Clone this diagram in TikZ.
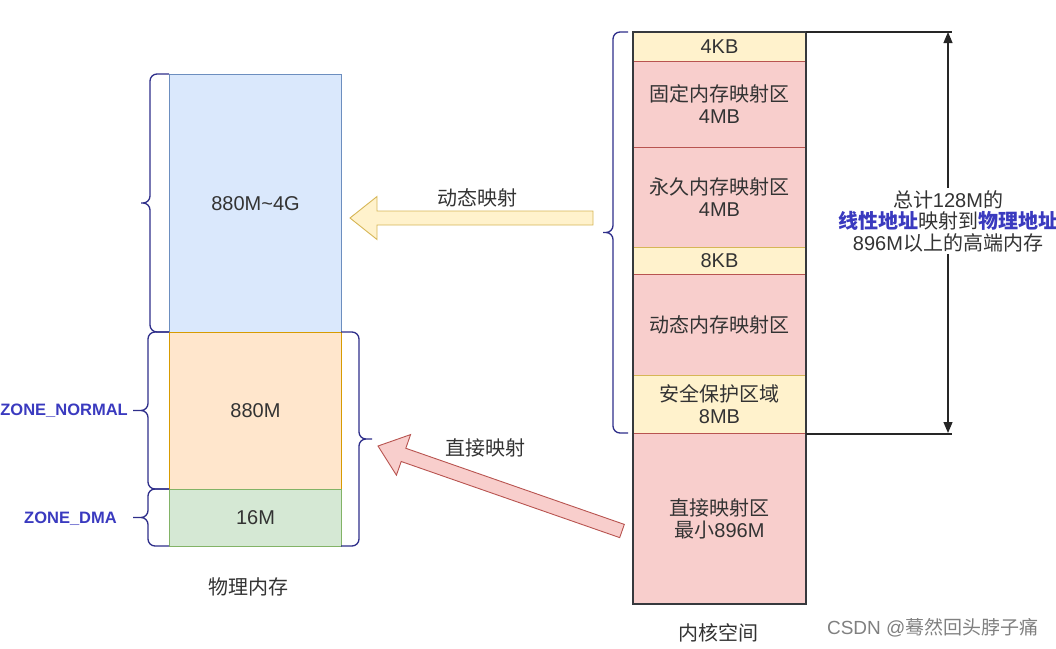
\documentclass[tikz,border=0pt]{standalone}
\usepackage{fontspec}
\setmainfont{Liberation Sans}
\newfontfamily\cjk{Noto Sans CJK SC}
\usetikzlibrary{calc,arrows.meta}

\definecolor{blueF}{HTML}{DAE8FC}\definecolor{blueS}{HTML}{6C8EBF}
\definecolor{orangeF}{HTML}{FFE6CC}\definecolor{orangeS}{HTML}{D79B00}
\definecolor{greenF}{HTML}{D5E8D4}\definecolor{greenS}{HTML}{82B366}
\definecolor{yellowF}{HTML}{FFF2CC}\definecolor{yellowS}{HTML}{D6B656}
\definecolor{pinkF}{HTML}{F8CECC}\definecolor{pinkS}{HTML}{B85450}
\definecolor{braceC}{HTML}{2E2E8A}
\definecolor{zoneC}{HTML}{3A3ABF}
\definecolor{txt}{HTML}{333333}
\definecolor{frame}{HTML}{36393D}

\tikzset{
  cell/.style={draw, line width=1pt, anchor=north west, inner sep=0pt,
    align=center, minimum width=172pt, text=txt,
    font=\fontsize{20}{22}\selectfont},
  curlybr/.style={draw=braceC, line width=1.3pt, rounded corners=7pt},
  zone/.style={font=\bfseries\fontsize{16.5}{20}\selectfont, text=zoneC, anchor=east, inner xsep=1pt},
  caption/.style={font=\fontsize{20}{22}\selectfont, text=txt},
  dimline/.style={draw=black!85, line width=1.1pt},
}

% curly bracket: x at the boxes, x of the spine, x of the tip, top y, bottom y
\newcommand\curly[5]{%
  \pgfmathsetmacro\cymid{(#4+#5)/2}%
  \draw[curlybr] (#1,#4) -- (#2,#4) -- (#2,\cymid) -- (#3,\cymid)
                 (#3,\cymid) -- (#2,\cymid) -- (#2,#5) -- (#1,#5);
}

% block arrow from coordinate #2 (tail) to coordinate #1 (tip)
\newcommand\fatarrow[4]{%
  \coordinate (#1-hb) at ($(#1)!27pt!(#2)$);
  \draw[fill=#3, draw=#4, line width=0.9pt, line join=miter]
    (#1) -- ($(#1-hb)!21.5pt!90:(#2)$) -- ($(#1-hb)!7pt!90:(#2)$)
    -- ($(#2)!7pt!-90:(#1-hb)$) -- ($(#2)!7pt!90:(#1-hb)$)
    -- ($(#1-hb)!7pt!-90:(#2)$) -- ($(#1-hb)!21.5pt!-90:(#2)$) -- cycle;
}

\begin{document}
\begin{tikzpicture}[x=1pt, y=-1pt]
\useasboundingbox (0,0) rectangle (1056,648);

% ---------- physical memory ----------
\node[cell, fill=blueF, draw=blueS, minimum height=258pt] (high) at (169,74) {880M\textasciitilde4G};
\node[cell, fill=orangeF, draw=orangeS, minimum height=157pt] (normal) at (169,332) {880M};
\node[cell, fill=greenF, draw=greenS, minimum height=57pt] (dma) at (169,489) {16M};

\curly{169}{150}{141}{74}{332}
\curly{169}{148}{133}{332}{489}
\curly{169}{148}{133}{489}{546}
\curly{341}{359}{372}{332}{546}

\node[zone] (lblnormal) at (129,411) {ZONE\_NORMAL};
\node[zone] (lbldma) at (118,519) {ZONE\_DMA};
\node[caption] (phys) at (248,587) {\cjk 物理内存};

% ---------- kernel address space ----------
\node[cell, fill=yellowF, draw=yellowS, minimum height=29pt] (k4kb) at (633,32) {4KB};
\node[cell, fill=pinkF, draw=pinkS, minimum height=86pt] (fixmap) at (633,61) {{\cjk 固定内存映射区}\\4MB};
\node[cell, fill=pinkF, draw=pinkS, minimum height=100pt] (pkmap) at (633,147) {{\cjk 永久内存映射区}\\4MB};
\node[cell, fill=yellowF, draw=yellowS, minimum height=27pt] (k8kb) at (633,247) {8KB};
\node[cell, fill=pinkF, draw=pinkS, minimum height=101pt] (vmalloc) at (633,274) {\cjk 动态内存映射区};
\node[cell, fill=yellowF, draw=yellowS, minimum height=58pt] (guard) at (633,375) {{\cjk 安全保护区域}\\8MB};
\node[cell, fill=pinkF, draw=pinkS, minimum height=170pt] (direct) at (633,433) {{\cjk 直接映射区}\\{\cjk 最小}896M};
\draw[draw=frame, line width=1.2pt] (k4kb.north west) rectangle (direct.south east);

\curly{628}{613}{603}{32}{433}
\node[caption] (kspace) at (718,633) {\cjk 内核空间};

% ---------- 128M high memory window ----------
\coordinate (dimtop) at (948,32);
\coordinate (dimbot) at (948,433);
\draw[dimline] (k4kb.north east) -- ++(146,0);
\draw[dimline] (guard.south east) -- ++(146,0);
\draw[dimline, {Triangle[length=11pt,width=9pt]}-{Triangle[length=11pt,width=9pt]}] (dimtop) -- (dimbot);
\node[fill=white, inner sep=2pt, align=center, text=txt,
      font=\fontsize{20}{21.5}\selectfont] (note) at (948,221)
  {{\cjk 总计}128M{\cjk 的}\\
   {\cjk\bfseries\color{zoneC}线性地址}{\cjk 映射到}{\cjk\bfseries\color{zoneC}物理地址}\\
   896M{\cjk 以上的高端内存}};

% ---------- mapping arrows ----------
\coordinate (dyn-tip) at (350,218);
\coordinate (dyn-tail) at (593,218);
\fatarrow{dyn-tip}{dyn-tail}{yellowF}{yellowS}
\node[caption] (dynlbl) at (477,198) {\cjk 动态映射};

\coordinate (dir-tip) at (378,446);
\coordinate (dir-tail) at (622,531);
\fatarrow{dir-tip}{dir-tail}{pinkF}{pinkS}
\node[caption] (dirlbl) at (485,448) {\cjk 直接映射};

% ---------- credit ----------
\node[anchor=east, text=black!50, font=\fontsize{19}{21}\selectfont] (credit) at (1042,628)
  {CSDN @{\cjk 蓦然回头脖子痛}};
\end{tikzpicture}
\end{document}
